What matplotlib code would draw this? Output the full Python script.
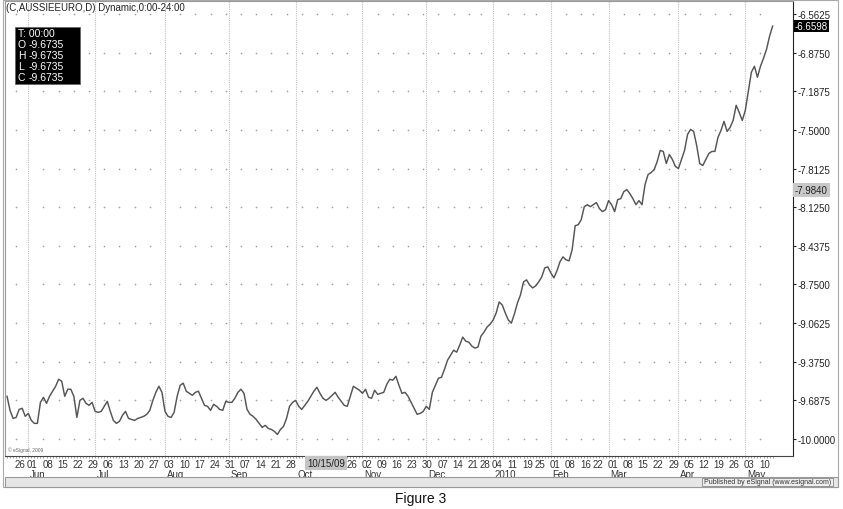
import matplotlib
matplotlib.use('Agg')
import matplotlib.pyplot as plt
import matplotlib.transforms as mtransforms
from matplotlib.patches import Rectangle
import numpy as np
import pandas as pd

plt.rcParams['font.family'] = ['Liberation Sans', 'DejaVu Sans']

title = '(C,AUSSIEEURO,D) Dynamic,0:00-24:00'

# sessions skipped by the chart's calendar
holidays = ['2009-05-25', '2009-12-25', '2010-01-01', '2010-01-18', '2010-02-15']
sessions = pd.bdate_range('2009-05-20', '2010-05-14')
sessions = sessions[~sessions.isin(pd.to_datetime(holidays))]

# daily close
close = [
    -9.655, -9.769, -9.834, -9.826, -9.761, -9.752, -9.817, -9.793, -9.850, -9.874,
    -9.874, -9.704, -9.663, -9.712, -9.655, -9.614, -9.574, -9.517, -9.533, -9.655,
    -9.598, -9.598, -9.655, -9.826, -9.688, -9.671, -9.712, -9.728, -9.704, -9.777,
    -9.785, -9.777, -9.736, -9.696, -9.777, -9.850, -9.874, -9.858, -9.809, -9.777,
    -9.834, -9.842, -9.850, -9.834, -9.826, -9.817, -9.801, -9.769, -9.688, -9.623,
    -9.574, -9.623, -9.777, -9.817, -9.826, -9.785, -9.655, -9.566, -9.549, -9.614,
    -9.631, -9.647, -9.623, -9.614, -9.671, -9.728, -9.736, -9.769, -9.720, -9.736,
    -9.761, -9.769, -9.696, -9.704, -9.704, -9.671, -9.623, -9.598, -9.631, -9.761,
    -9.801, -9.817, -9.842, -9.874, -9.907, -9.890, -9.915, -9.923, -9.939, -9.964,
    -9.923, -9.899, -9.834, -9.736, -9.704, -9.688, -9.736, -9.761, -9.728, -9.696,
    -9.655, -9.614, -9.582, -9.631, -9.671, -9.688, -9.671, -9.647, -9.623, -9.663,
    -9.696, -9.728, -9.736, -9.655, -9.574, -9.590, -9.606, -9.631, -9.598,
    -9.663, -9.671, -9.606, -9.639, -9.631, -9.623, -9.558, -9.517, -9.525, -9.493,
    -9.566, -9.631, -9.623, -9.655, -9.704, -9.752, -9.801, -9.793, -9.777, -9.736,
    -9.761, -9.623, -9.566, -9.509, -9.501, -9.436, -9.363, -9.322, -9.282, -9.298,
    -9.241, -9.176, -9.209, -9.217, -9.249, -9.265, -9.257, -9.168, -9.136, -9.095,
    -9.071, -9.038, -8.981, -8.892, -8.916, -8.981, -9.038, -9.063, -8.989, -8.900,
    -8.835, -8.730, -8.713, -8.754, -8.778, -8.762, -8.730, -8.689, -8.616, -8.608,
    -8.657, -8.697, -8.640, -8.567, -8.527, -8.551, -8.559, -8.470, -8.275, -8.267,
    -8.226, -8.121, -8.105, -8.121, -8.105, -8.088, -8.137, -8.161, -8.145, -8.072,
    -8.105, -8.161, -8.064, -8.056, -8.000, -7.983, -8.015, -8.056, -8.105, -8.072,
    -8.105, -7.942, -7.861, -7.845, -7.821, -7.756, -7.666, -7.674, -7.772, -7.699,
    -7.739, -7.796, -7.812, -7.739, -7.666, -7.536, -7.496, -7.512, -7.626, -7.772,
    -7.788, -7.739, -7.691, -7.674, -7.674, -7.561, -7.504, -7.431, -7.512, -7.480,
    -7.423, -7.301, -7.358, -7.423, -7.342, -7.187, -7.033, -6.985, -7.074, -6.985,
    -6.920, -6.847, -6.741, -6.660,
]

y_ticks = [-6.5625, -6.8750, -7.1875, -7.5000, -7.8125, -8.1250,
           -8.4375, -8.7500, -9.0625, -9.3750, -9.6875, -10.0000]
last_price = -6.6598
marker_price = -7.9840
cursor_date = '2009-10-15'
info_rows = ['O', 'H', 'L', 'C']
info_values = [-9.6735, -9.6735, -9.6735, -9.6735]

W, H = 843, 510
fig = plt.figure(figsize=(W / 100, H / 100), dpi=100)


def fx(px):
    return px / W


def fy(py):
    return 1 - py / H


ax = fig.add_axes([fx(5), fy(457), fx(793) - fx(5), fy(2) - fy(457)])
x = np.arange(len(close))
ax.set_xlim(-0.66, 258.7)
ax.set_ylim(-10.138, -6.457)

# weekly and monthly positions in the session calendar
week_idx = [i for i in range(1, len(sessions))
            if sessions[i].isocalendar()[1] != sessions[i - 1].isocalendar()[1]]
month_idx = [i for i in range(1, len(sessions))
             if sessions[i].month != sessions[i - 1].month]
ci = int(np.where(sessions == pd.Timestamp(cursor_date))[0][0])

for i in month_idx:
    ax.axvline(i, color='#c0c0c0', lw=0.8, ls=(0, (1, 1)), zorder=1)

dot_x = [i for i in week_idx if i not in month_idx]
ax.scatter(np.repeat(dot_x, len(y_ticks)), np.tile(y_ticks, len(dot_x)),
           s=1.5, color='#a0a0a0', lw=0, zorder=1)

ax.plot(x, close, color='#555555', lw=1.05, zorder=3, solid_joinstyle='round')

# price scale on the right
ax.yaxis.tick_right()
ax.set_yticks(y_ticks)
ax.set_yticklabels(['%.4f' % v for v in y_ticks])
ax.tick_params(axis='y', length=2, pad=1, labelsize=7, colors='#222222')
ax.set_xticks([])
ax.set_xticks(x, minor=True)
ax.tick_params(axis='x', which='minor', length=1.5, width=0.5, colors='#777777')

for side, col in [('left', '#999999'), ('top', '#999999'),
                  ('right', '#222222'), ('bottom', '#444444')]:
    ax.spines[side].set_color(col)
    ax.spines[side].set_linewidth(0.8)

# date labels (the ones under the cursor flag are hidden)
tx = mtransforms.blended_transform_factory(ax.transData, fig.transFigure)
for i in week_idx:
    if abs(i - ci) <= 8 and i < ci + 7:
        continue
    ax.text(i - 0.4, fy(465), sessions[i].strftime('%d'), transform=tx,
            ha='left', va='center', fontsize=7, color='#333333', clip_on=False)
for i in month_idx:
    d = sessions[i]
    name = str(d.year) if d.month == 1 else d.strftime('%b')
    ax.text(i + 0.5, fy(475), name, transform=tx, ha='left', va='center',
            fontsize=7, color='#333333', clip_on=False)

ax.text(ci, fy(464), pd.Timestamp(cursor_date).strftime('%m/%d/%y'),
        transform=tx, ha='center', va='center', fontsize=7, color='#222222',
        zorder=10, clip_on=False,
        bbox=dict(boxstyle='square,pad=0.2', fc='#c4c4c4', ec='none'))

# price flags on the scale
ty = mtransforms.blended_transform_factory(fig.transFigure, ax.transData)
ax.text(fx(795), last_price, '%.4f' % last_price, transform=ty, ha='left',
        va='center', fontsize=7, color='white', zorder=10, clip_on=False,
        bbox=dict(boxstyle='square,pad=0.12', fc='black', ec='none'))
ax.text(fx(795), marker_price, '%.4f' % marker_price, transform=ty, ha='left',
        va='center', fontsize=7, color='#222222', zorder=10, clip_on=False,
        bbox=dict(boxstyle='square,pad=0.2', fc='#c8c8c8', ec='none'))

# header and data window
fig.text(fx(6), fy(8), title, fontsize=7, ha='left', va='center', color='#222222')
fig.add_artist(Rectangle((fx(15), fy(85)), fx(80) - fx(15), fy(28) - fy(85),
                         transform=fig.transFigure, fc='black', ec='#666666',
                         lw=0.6, zorder=4))
fig.text(fx(18), fy(34), 'T: 00:00', fontsize=7.5, color='white', va='center', zorder=5)
for k, (lab, val) in enumerate(zip(info_rows, info_values)):
    yy = fy(45 + 11 * k)
    fig.text(fx(18), yy, lab, fontsize=7.5, color='white', va='center', zorder=5)
    fig.text(fx(29), yy, '%.4f' % val, fontsize=7.5, color='white', va='center', zorder=5)

fig.text(fx(8), fy(452), '\u00a9 eSignal, 2009', fontsize=3.5, color='#666666')

# frame and footer
fig.add_artist(Rectangle((fx(3), fy(488)), fx(838) - fx(3), fy(0.5) - fy(488),
                         transform=fig.transFigure, fc='none', ec='#aaaaaa', lw=0.8))
fig.add_artist(Rectangle((fx(5), fy(488)), fx(838) - fx(5), fy(478) - fy(488),
                         transform=fig.transFigure, fc='#e6e6e6', ec='#9a9a9a', lw=0.8))
fig.add_artist(Rectangle((fx(702), fy(487)), fx(833) - fx(702), fy(479) - fy(487),
                         transform=fig.transFigure, fc='#eeeeee', ec='#888888', lw=0.6))
fig.text(fx(767.5), fy(483), 'Published by eSignal (www.esignal.com)', fontsize=5,
         ha='center', va='center', color='#333333', zorder=5)

fig.text(fx(421), fy(499), 'Figure 3', fontsize=10, ha='center', va='center',
         color='#111111')

fig.savefig('out.png', dpi=100, facecolor='white')
